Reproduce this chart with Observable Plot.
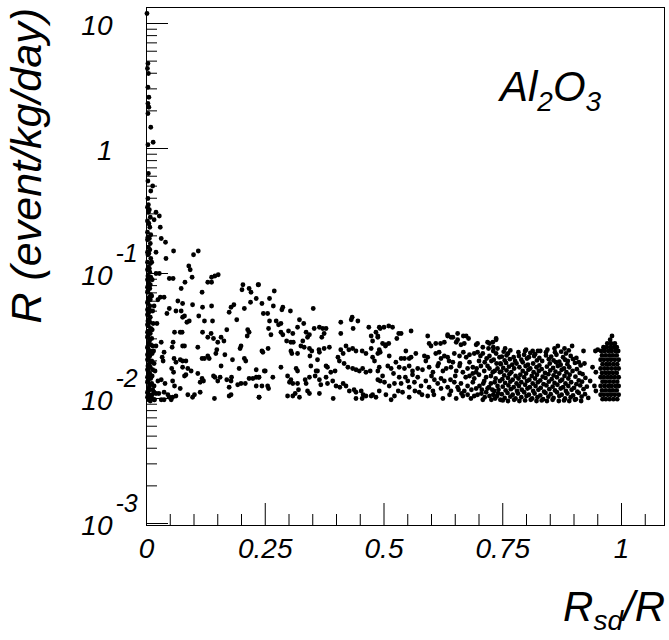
<!DOCTYPE html>
<html><head><meta charset="utf-8">
<script src="https://cdn.jsdelivr.net/npm/d3@7"></script>
<script src="https://cdn.jsdelivr.net/npm/@observablehq/plot@0.6"></script>
<style>html,body{margin:0;padding:0;background:#fff} svg{display:block}</style>
</head><body><div id="chart"></div>
<script>
// ---- Data: [Rsd/R, log10(R)] ----
const leftColumn = [
[0.001,1.08],[0.003,0.68],[0.002,0.64],[0.004,0.6],[0.003,0.49],[0.005,0.41],[0.003,0.36],[0.005,0.33],[0.003,0.28],[0.009,0.17],[0.014,0.05],[0.003,0.03],[0.004,-0.2],[0.003,-0.26],[0.013,-0.3],[0.009,-0.34],[0.003,-0.4],[0.004,-0.45],
[0.002,-0.47],[0.004,-0.51],[0.002,-0.58],[0.004,-0.6],[0.002,-0.67],[0.003,-0.71],[0.002,-0.73],[0.004,-0.79],[0.002,-0.83],[0.003,-0.85],[0.002,-0.91],[0.004,-0.95],[0.002,-0.97],[0.003,-1.02],[0.002,-1.05],[0.004,-1.06],[0.002,-1.11],[0.003,-1.14],[0.002,-1.15],[0.004,-1.2],[0.002,-1.23],[0.003,-1.24],[0.002,-1.29],[0.004,-1.32],[0.002,-1.33],[0.003,-1.38],[0.002,-1.41],[0.004,-1.42],[0.002,-1.47],[0.003,-1.5],[0.002,-1.51],[0.004,-1.56],[0.002,-1.59],[0.003,-1.6],[0.002,-1.65],[0.004,-1.68],[0.002,-1.69],[0.003,-1.74],[0.002,-1.77],[0.004,-1.78],[0.002,-1.83],[0.003,-1.86],[0.002,-1.87],[0.004,-1.92],[0.002,-1.95],[0.003,-1.96],[0.002,-1.99],[0.004,-2.01],
[0.006,-0.49],[0.005,-0.6],[0.006,-0.72],[0.005,-0.84],[0.006,-0.96],[0.005,-1.08],[0.006,-1.19],[0.005,-1.28],[0.006,-1.36],[0.005,-1.46],[0.006,-1.54],[0.005,-1.63],[0.006,-1.72],[0.005,-1.81],[0.006,-1.9],[0.005,-1.97],
[0.008,-0.55],[0.007,-0.63],[0.009,-0.69],[0.008,-0.76],[0.007,-0.81],[0.009,-0.88],[0.008,-0.92],[0.007,-0.99],[0.009,-1.03],[0.008,-1.09],[0.007,-1.12],[0.009,-1.17],[0.008,-1.21],[0.007,-1.26],[0.009,-1.3],[0.008,-1.35],[0.007,-1.39],[0.009,-1.44],[0.008,-1.48],[0.007,-1.53],[0.009,-1.57],[0.008,-1.62],[0.007,-1.66],[0.009,-1.71],[0.008,-1.75],[0.007,-1.8],[0.009,-1.84],[0.008,-1.89],[0.007,-1.93],[0.009,-1.98],[0.008,-2.02],
[0.012,-1.05],[0.011,-1.18],[0.013,-1.3],[0.012,-1.45],[0.011,-1.52],[0.013,-1.58],[0.012,-1.64],[0.011,-1.7],[0.013,-1.77],[0.012,-1.82],[0.011,-1.88],[0.013,-1.93],[0.012,-1.97],[0.011,-2.0],[0.018,-1.78],[0.016,-1.9],[0.02,-1.96],[0.017,-2.01],[0.015,-1.62],[0.016,-1.72],[0.014,-1.4]
];
const lowRange = [
[0.02,-0.51],[0.027,-0.54],[0.016,-0.57],[0.029,-0.63],[0.031,-0.72],[0.04,-0.75],[0.02,-0.83],[0.057,-0.82],[0.041,-0.88],[0.099,-0.85],[0.109,-0.82],[0.011,-0.91],[0.089,-0.94],[0.092,-0.97],[0.096,-1.03],[0.02,-1.0],[0.027,-1.0],[0.048,-1.04],[0.056,-1.04],[0.081,-1.07],[0.137,-1.03],[0.144,-1.02],[0.151,-1.01],[0.129,-1.07],[0.137,-1.07],[0.073,-1.12],[0.117,-1.15],[0.203,-1.09],[0.235,-1.09],[0.201,-1.13],[0.216,-1.12],[0.22,-1.15],[0.231,-1.2],[0.219,-1.23],[0.029,-1.19],[0.037,-1.19],[0.024,-1.21],[0.016,-1.26],[0.066,-1.22],[0.076,-1.24],[0.048,-1.28],[0.062,-1.3],[0.073,-1.3],[0.097,-1.25],[0.118,-1.27],[0.137,-1.26],[0.178,-1.27],[0.184,-1.25],[0.174,-1.31],[0.206,-1.28],[0.043,-1.32],[0.08,-1.34],[0.076,-1.35],[0.09,-1.38],[0.085,-1.39],[0.11,-1.34],[0.122,-1.38],[0.139,-1.38],[0.19,-1.37],[0.022,-1.4],[0.059,-1.47],[0.071,-1.47],[0.075,-1.47],[0.118,-1.47],[0.136,-1.48],[0.141,-1.52],[0.169,-1.45],[0.157,-1.51],[0.163,-1.54],[0.15,-1.55],[0.213,-1.45],[0.216,-1.47],[0.212,-1.5],[0.129,-1.51],[0.056,-1.55],[0.054,-1.59],[0.076,-1.58],[0.08,-1.58],[0.031,-1.55],[0.02,-1.58],[0.108,-1.59],[0.199,-1.58],[0.197,-1.6],[0.148,-1.61],[0.146,-1.64],[0.037,-1.63],[0.165,-1.65],[0.129,-1.66],[0.132,-1.68],[0.117,-1.68],[0.122,-1.68],[0.058,-1.68],[0.062,-1.71],[0.071,-1.69],[0.076,-1.7],[0.083,-1.7],[0.033,-1.67],[0.035,-1.7],[0.181,-1.69],[0.206,-1.68],[0.209,-1.7],[0.195,-1.76],[0.157,-1.74],[0.076,-1.75],[0.087,-1.76],[0.08,-1.82],[0.083,-1.81],[0.094,-1.78],[0.053,-1.76],[0.057,-1.79],[0.108,-1.8],[0.12,-1.86],[0.117,-1.84],[0.113,-1.87],[0.141,-1.82],[0.144,-1.83],[0.15,-1.86],[0.155,-1.83],[0.169,-1.85],[0.178,-1.86],[0.179,-1.83],[0.192,-1.89],[0.199,-1.88],[0.208,-1.88],[0.216,-1.84],[0.224,-1.84],[0.231,-1.83],[0.237,-1.83],[0.174,-1.91],[0.231,-1.9],[0.024,-1.86],[0.031,-1.85],[0.039,-1.88],[0.055,-1.86],[0.059,-1.9],[0.071,-1.92],[0.087,-1.97],[0.101,-1.97],[0.113,-1.95],[0.045,-1.97],[0.048,-1.99],[0.055,-1.99],[0.062,-1.98],[0.052,-2.01],[0.097,-1.99],[0.143,-2.0],[0.174,-1.98],[0.178,-1.97],[0.237,-1.99],[0.016,-1.95],[0.026,-1.96],[0.037,-1.95],[0.016,-2.01],[0.031,-2.01],[0.037,-2.01]
];
const midRange = [
[0.236,-1.09],[0.269,-1.14],[0.243,-1.24],[0.259,-1.2],[0.267,-1.26],[0.287,-1.27],[0.285,-1.29],[0.303,-1.3],[0.351,-1.28],[0.246,-1.32],[0.255,-1.32],[0.259,-1.38],[0.273,-1.38],[0.283,-1.4],[0.278,-1.41],[0.322,-1.37],[0.331,-1.4],[0.257,-1.44],[0.262,-1.49],[0.283,-1.47],[0.287,-1.49],[0.299,-1.46],[0.308,-1.48],[0.318,-1.43],[0.336,-1.47],[0.343,-1.49],[0.339,-1.51],[0.353,-1.44],[0.364,-1.43],[0.371,-1.44],[0.378,-1.44],[0.374,-1.48],[0.369,-1.51],[0.409,-1.39],[0.433,-1.35],[0.431,-1.37],[0.445,-1.38],[0.435,-1.44],[0.409,-1.48],[0.468,-1.43],[0.483,-1.47],[0.492,-1.44],[0.473,-1.5],[0.476,-1.54],[0.487,-1.51],[0.295,-1.54],[0.304,-1.55],[0.309,-1.55],[0.329,-1.54],[0.325,-1.58],[0.332,-1.59],[0.245,-1.63],[0.243,-1.62],[0.256,-1.6],[0.304,-1.62],[0.306,-1.64],[0.318,-1.64],[0.343,-1.6],[0.344,-1.66],[0.348,-1.62],[0.363,-1.61],[0.364,-1.63],[0.374,-1.6],[0.385,-1.59],[0.36,-1.69],[0.409,-1.61],[0.414,-1.64],[0.403,-1.67],[0.406,-1.7],[0.42,-1.58],[0.426,-1.61],[0.434,-1.6],[0.441,-1.62],[0.454,-1.62],[0.462,-1.64],[0.473,-1.6],[0.476,-1.67],[0.48,-1.7],[0.492,-1.63],[0.416,-1.72],[0.424,-1.75],[0.434,-1.76],[0.441,-1.77],[0.448,-1.78],[0.455,-1.76],[0.462,-1.79],[0.471,-1.78],[0.231,-1.77],[0.248,-1.78],[0.25,-1.78],[0.283,-1.75],[0.315,-1.76],[0.318,-1.78],[0.346,-1.74],[0.357,-1.78],[0.36,-1.78],[0.378,-1.74],[0.381,-1.75],[0.388,-1.79],[0.397,-1.78],[0.236,-1.83],[0.266,-1.83],[0.297,-1.82],[0.304,-1.85],[0.301,-1.87],[0.308,-1.88],[0.243,-1.9],[0.255,-1.9],[0.257,-1.92],[0.318,-1.88],[0.32,-1.93],[0.334,-1.85],[0.336,-1.88],[0.343,-1.83],[0.355,-1.82],[0.364,-1.85],[0.367,-1.89],[0.378,-1.83],[0.381,-1.88],[0.392,-1.86],[0.399,-1.9],[0.407,-1.91],[0.414,-1.88],[0.339,-1.94],[0.343,-1.96],[0.364,-1.96],[0.297,-1.98],[0.308,-1.98],[0.313,-1.96],[0.322,-1.99],[0.237,-1.99],[0.393,-2.0],[0.42,-1.9],[0.427,-1.94],[0.437,-1.93],[0.441,-1.95],[0.452,-1.94],[0.456,-1.97],[0.462,-1.98],[0.473,-1.98],[0.476,-1.97],[0.483,-1.99],[0.441,-2.0],[0.454,-2.0],[0.487,-1.78],[0.492,-1.86]
];
const upperMid = [
[0.49,-1.43],[0.51,-1.42],[0.518,-1.43],[0.531,-1.48],[0.536,-1.48],[0.527,-1.52],[0.557,-1.46],[0.487,-1.5],[0.497,-1.56],[0.504,-1.57],[0.51,-1.56],[0.503,-1.58],[0.592,-1.5],[0.595,-1.56],[0.599,-1.58],[0.609,-1.56],[0.619,-1.56],[0.627,-1.55],[0.634,-1.5],[0.645,-1.51],[0.652,-1.55],[0.655,-1.53],[0.667,-1.5],[0.673,-1.5],[0.678,-1.52],[0.662,-1.57],[0.669,-1.56],[0.694,-1.57],[0.697,-1.56],[0.722,-1.56],[0.729,-1.55],[0.736,-1.53],[0.708,-1.59],[0.72,-1.6],[0.73,-1.59],[0.739,-1.6],[0.49,-1.61],[0.487,-1.64],[0.511,-1.66],[0.546,-1.62],[0.557,-1.67],[0.567,-1.64],[0.536,-1.68],[0.543,-1.68],[0.553,-1.68],[0.585,-1.66],[0.588,-1.7],[0.592,-1.67],[0.609,-1.64],[0.616,-1.63],[0.62,-1.68],[0.627,-1.66],[0.634,-1.67],[0.637,-1.7],[0.648,-1.64],[0.659,-1.66],[0.667,-1.63],[0.673,-1.67],[0.68,-1.65],[0.69,-1.64],[0.697,-1.63],[0.708,-1.64],[0.722,-1.66],[0.736,-1.64],[0.743,-1.67],
[0.49,-1.75],[0.508,-1.74],[0.515,-1.76],[0.525,-1.71],[0.532,-1.75],[0.543,-1.76],[0.553,-1.74],[0.56,-1.78],[0.571,-1.76],[0.581,-1.77],[0.595,-1.75],[0.603,-1.79],[0.613,-1.74],[0.624,-1.78],[0.631,-1.76],[0.641,-1.75],[0.652,-1.78],[0.659,-1.74],[0.666,-1.79],[0.676,-1.76],[0.687,-1.75],[0.694,-1.79],[0.704,-1.74],[0.711,-1.78],[0.722,-1.76],[0.729,-1.79],[0.739,-1.76],[0.744,-1.79],
[0.487,-1.85],[0.497,-1.82],[0.501,-1.87],[0.511,-1.9],[0.522,-1.88],[0.532,-1.83],[0.536,-1.88],[0.55,-1.86],[0.553,-1.91],[0.564,-1.87],[0.571,-1.83],[0.578,-1.9],[0.588,-1.86],[0.595,-1.91],[0.606,-1.85],[0.613,-1.88],[0.62,-1.92],[0.627,-1.86],[0.634,-1.91],[0.641,-1.94],[0.648,-1.87],[0.655,-1.91],[0.662,-1.88],[0.669,-1.94],[0.676,-1.9],[0.687,-1.87],[0.694,-1.92],[0.701,-1.9],[0.711,-1.86],[0.718,-1.92],[0.725,-1.88],[0.732,-1.94],[0.739,-1.9],[0.744,-1.86],
[0.49,-1.94],[0.504,-1.97],[0.522,-1.98],[0.539,-1.95],[0.553,-1.99],[0.574,-1.95],[0.592,-1.98],[0.603,-1.94],[0.624,-2.0],[0.638,-1.97],[0.652,-2.0],[0.666,-1.98],[0.683,-2.0],[0.697,-1.97],[0.708,-2.01],[0.722,-1.98],[0.734,-2.0],[0.5,-1.43],[0.634,-1.49],[0.641,-1.51],[0.655,-1.48],[0.718,-1.55],
[0.68,-1.82],[0.69,-1.84],[0.7,-1.81],[0.705,-1.96],[0.715,-1.83],[0.715,-1.95],[0.725,-1.82],[0.73,-1.97],[0.735,-1.84],[0.74,-1.96],[0.745,-1.72],[0.745,-2.01],[0.672,-1.83],[0.663,-1.96],[0.69,-1.98],[0.7,-1.7],[0.712,-1.71],[0.726,-1.7],[0.737,-1.72],[0.65,-1.82],[0.64,-1.85],[0.66,-1.72],[0.645,-1.71],[0.68,-1.71],[0.62,-1.84],[0.605,-1.97],[0.615,-1.72],[0.58,-1.97],[0.565,-1.94],[0.545,-1.83],[0.53,-1.94],[0.515,-2.01],[0.6,-1.82],[0.56,-1.81],[0.52,-1.8],
[0.703,-1.66],[0.716,-1.68],[0.731,-1.69],[0.709,-1.88],[0.721,-1.91],[0.733,-1.87],[0.706,-1.93],[0.728,-1.93],[0.741,-1.93],[0.712,-1.99],[0.726,-2.01],[0.738,-1.98],[0.695,-1.76],[0.718,-1.74],[0.733,-1.78],[0.684,-1.93],[0.676,-1.97],[0.657,-1.93],[0.687,-1.8],[0.73,-1.62]
];
const stragglers = [
[0.755,-1.6],[0.799,-1.61],[0.813,-1.62],[0.824,-1.62],[0.841,-1.63],[0.859,-1.6],[0.866,-1.58],[0.88,-1.6],[0.896,-1.58],[0.883,-1.64],[0.887,-1.7],[0.92,-1.62],[0.91,-1.71],[0.922,-1.72],[0.945,-1.62],[0.95,-1.61],[0.939,-1.75],[0.946,-1.79],[0.934,-1.86],[0.943,-1.9],[0.946,-1.94],[0.736,-1.52]
];
// dense band 0.745 - 0.93
const denseBand = [
[0.752,-1.625],[0.766,-1.615],[0.783,-1.63],[0.797,-1.62],[0.808,-1.635],[0.829,-1.62],[0.844,-1.61],[0.86,-1.63],[0.873,-1.625],[0.889,-1.615],[0.761,-1.64],[0.818,-1.645],
[0.748,-1.665],[0.758,-1.655],[0.773,-1.67],[0.784,-1.66],[0.795,-1.65],[0.805,-1.67],[0.816,-1.66],[0.827,-1.675],[0.841,-1.655],[0.852,-1.665],[0.863,-1.65],[0.877,-1.67],[0.893,-1.66],[0.905,-1.675],
[0.754,-1.695],[0.765,-1.685],[0.776,-1.7],[0.789,-1.69],[0.801,-1.68],[0.822,-1.695],[0.833,-1.7],[0.847,-1.685],[0.857,-1.695],[0.869,-1.705],[0.881,-1.69],[0.898,-1.685],
[0.746,-1.725],[0.757,-1.715],[0.77,-1.73],[0.779,-1.72],[0.792,-1.71],[0.803,-1.73],[0.814,-1.72],[0.827,-1.735],[0.849,-1.72],[0.862,-1.71],[0.872,-1.73],[0.886,-1.725],[0.902,-1.715],[0.914,-1.735],
[0.751,-1.755],[0.763,-1.745],[0.774,-1.76],[0.785,-1.75],[0.798,-1.74],[0.808,-1.76],[0.821,-1.75],[0.832,-1.765],[0.843,-1.745],[0.856,-1.755],[0.866,-1.74],[0.879,-1.76],[0.89,-1.75],[0.906,-1.765],
[0.747,-1.785],[0.758,-1.775],[0.768,-1.79],[0.792,-1.78],[0.804,-1.77],[0.815,-1.79],[0.826,-1.78],[0.839,-1.795],[0.85,-1.775],[0.861,-1.785],[0.874,-1.77],[0.884,-1.79],[0.897,-1.78],[0.912,-1.795],
[0.753,-1.815],[0.764,-1.805],[0.777,-1.82],[0.787,-1.81],[0.799,-1.8],[0.811,-1.82],[0.822,-1.81],[0.834,-1.825],[0.846,-1.805],[0.857,-1.815],[0.869,-1.8],[0.88,-1.82],[0.891,-1.81],[0.903,-1.825],[0.918,-1.805],
[0.749,-1.845],[0.761,-1.835],[0.771,-1.85],[0.783,-1.84],[0.795,-1.83],[0.806,-1.85],[0.818,-1.84],[0.829,-1.855],[0.84,-1.835],[0.853,-1.845],[0.864,-1.83],[0.875,-1.85],[0.888,-1.84],[0.91,-1.855],[0.924,-1.835],
[0.755,-1.875],[0.766,-1.865],[0.779,-1.88],[0.789,-1.87],[0.801,-1.86],[0.813,-1.88],[0.824,-1.87],[0.836,-1.885],[0.847,-1.865],[0.859,-1.875],[0.871,-1.86],[0.882,-1.88],[0.894,-1.87],[0.905,-1.885],[0.917,-1.865],
[0.75,-1.905],[0.762,-1.895],[0.773,-1.91],[0.784,-1.9],[0.797,-1.89],[0.807,-1.91],[0.819,-1.9],[0.83,-1.915],[0.842,-1.895],[0.855,-1.905],[0.865,-1.89],[0.877,-1.91],[0.888,-1.9],[0.9,-1.915],[0.913,-1.895],[0.927,-1.905],
[0.756,-1.935],[0.767,-1.925],[0.78,-1.94],[0.79,-1.93],[0.802,-1.92],[0.814,-1.94],[0.825,-1.93],[0.837,-1.945],[0.848,-1.925],[0.86,-1.935],[0.872,-1.92],[0.883,-1.94],[0.895,-1.93],[0.907,-1.945],[0.92,-1.925],
[0.748,-1.965],[0.76,-1.955],[0.771,-1.97],[0.782,-1.96],[0.795,-1.95],[0.805,-1.97],[0.817,-1.96],[0.829,-1.975],[0.84,-1.955],[0.851,-1.965],[0.864,-1.95],[0.874,-1.97],[0.886,-1.96],[0.898,-1.975],[0.91,-1.955],[0.923,-1.965],
[0.754,-1.995],[0.766,-1.985],[0.777,-2.0],[0.789,-1.99],[0.8,-1.98],[0.812,-2.0],[0.823,-1.99],[0.835,-2.005],[0.846,-1.985],[0.857,-1.995],[0.869,-1.98],[0.881,-2.0],[0.893,-1.99],[0.904,-2.005],[0.916,-1.985],[0.93,-1.995],
[0.75,-2.015],[0.761,-2.02],[0.774,-2.01],[0.785,-2.02],[0.797,-2.015],[0.809,-2.01],[0.821,-2.02],[0.832,-2.015],[0.843,-2.02],[0.855,-2.01],[0.868,-2.02],[0.879,-2.015],[0.89,-2.02],[0.902,-2.01],[0.915,-2.02]
];
// dense column near Rsd/R = 1 : [log10(R), Rsd/R values]
const rightRows = [
[-1.5,[0.98]],[-1.53,[0.976]],
[-1.56,[0.97,0.978,0.986]],
[-1.59,[0.962,0.969,0.977,0.984,0.99]],
[-1.62,[0.957,0.964,0.972,0.979,0.987,0.993]],
[-1.655,[0.959,0.967,0.975,0.982,0.99]],
[-1.69,[0.956,0.963,0.971,0.978,0.986,0.994]],
[-1.725,[0.96,0.968,0.975,0.983,0.991]],
[-1.76,[0.956,0.964,0.971,0.979,0.987,0.994]],
[-1.795,[0.959,0.967,0.974,0.982,0.99]],
[-1.83,[0.956,0.963,0.971,0.978,0.986,0.994]],
[-1.865,[0.96,0.967,0.975,0.983,0.991]],
[-1.9,[0.956,0.964,0.972,0.979,0.987,0.994]],
[-1.935,[0.959,0.967,0.975,0.982,0.99]],
[-1.97,[0.956,0.963,0.971,0.978,0.986,0.994]],
[-2.005,[0.96,0.967,0.975,0.983,0.991]]
];
// axis ticks and labels
const xMajor = [0, 0.25, 0.5, 0.75, 1];
const xLabels = ["0", "0.25", "0.5", "0.75", "1"];
const yMajor = [0.001, 0.01, 0.1, 1, 10];
const yBase = ["10", "10", "10", "1", "10"];
const yExp = ["-3", "-2", "-1", "", ""];

// ---- build ----
const pairs = [...leftColumn, ...lowRange, ...midRange, ...upperMid, ...stragglers, ...denseBand,
  ...rightRows.flatMap(([l, xs]) => xs.map(x => [x, l]))];
const points = pairs.map(([x, l]) => ({x, R: Math.pow(10, l)}));

const xMinor = d3.range(1, 22).map(i => +(i * 0.05).toFixed(2)).filter(v => Math.abs(v * 4 - Math.round(v * 4)) > 1e-6);
const yMinor = [];
for (let e = -3; e <= 0; e++) for (let k = 2; k <= 9; k++) yMinor.push(k * Math.pow(10, e));
const yExpTicks = yMajor.map((v, i) => ({v, t: yExp[i]})).filter(d => d.t);

const W = 669, H = 640, mL = 146, mR = 5, mT = 7, mB = 115;
const fw = W - mL - mR, fh = H - mT - mB;
const FONT = "'Liberation Sans', Arial, Helvetica, sans-serif";

const chart = Plot.plot({
  width: W, height: H,
  marginLeft: mL, marginRight: mR, marginTop: mT, marginBottom: mB,
  style: {fontFamily: FONT, background: "white", color: "black"},
  x: {domain: [0, 1.0905], axis: null},
  y: {type: "log", domain: [Math.pow(10, -3.016), Math.pow(10, 1.128)], axis: null},
  marks: [
    Plot.dot(points, {x: "x", y: "R", r: 2.4, fill: "black"}),
    Plot.tickY(yMajor, {y: d => d, insetRight: fw - 22, stroke: "black"}),
    Plot.tickY(yMinor, {y: d => d, insetRight: fw - 11, stroke: "black"}),
    Plot.tickX(xMajor, {x: d => d, insetTop: fh - 22, stroke: "black"}),
    Plot.tickX(xMinor, {x: d => d, insetTop: fh - 11, stroke: "black"}),
    Plot.frame({stroke: "black"}),
    Plot.text(yMajor, {y: d => d, text: (d, i) => yBase[i], frameAnchor: "left", textAnchor: "end", dx: -34, dy: 3, fontSize: 28, fontStyle: "italic", fill: "black"}),
    Plot.text(yExpTicks, {y: "v", text: "t", frameAnchor: "left", textAnchor: "start", dx: -31, dy: -20, fontSize: 25, fontStyle: "italic", fill: "black"}),
    Plot.text(xMajor, {x: d => d, text: (d, i) => xLabels[i], frameAnchor: "bottom", dy: 32, fontSize: 28, fontStyle: "italic", fill: "black"})
  ]
});
document.getElementById("chart").appendChild(chart);

// ---- titles (with sub/superscripts) ----
const svg = d3.select(chart);
svg.append("text")
  .attr("transform", "translate(41,8) rotate(-90)")
  .attr("text-anchor", "end").attr("font-size", 43).attr("font-style", "italic")
  .attr("font-family", FONT).attr("fill", "black")
  .text("R (event/kg/day)");
const xt = svg.append("text")
  .attr("x", 665).attr("y", 621).attr("text-anchor", "end")
  .attr("font-size", 42).attr("font-style", "italic").attr("font-family", FONT).attr("fill", "black");
xt.append("tspan").text("R");
xt.append("tspan").attr("dy", 9).attr("font-size", 28).text("sd");
xt.append("tspan").attr("dy", -9).text("/R");
const mt = svg.append("text")
  .attr("x", 500).attr("y", 101).attr("text-anchor", "start")
  .attr("font-size", 42).attr("font-style", "italic").attr("font-family", FONT).attr("fill", "black");
mt.append("tspan").text("Al");
mt.append("tspan").attr("dy", 10).attr("font-size", 28).text("2");
mt.append("tspan").attr("dy", -10).text("O");
mt.append("tspan").attr("dy", 10).attr("font-size", 28).text("3");
</script>
</body></html>
